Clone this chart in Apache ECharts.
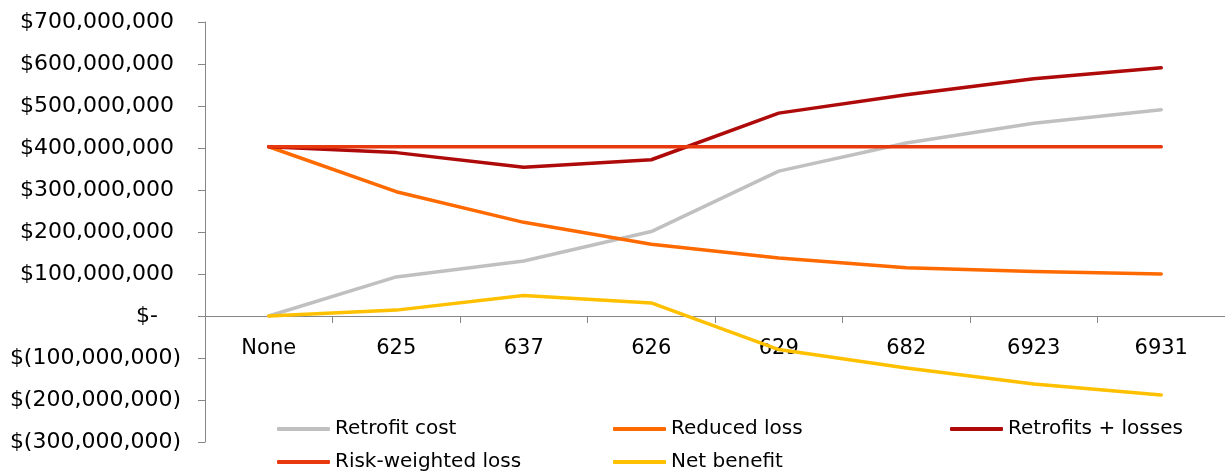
<!DOCTYPE html>
<html>
<head>
<meta charset="utf-8">
<script src="https://cdn.jsdelivr.net/npm/echarts@6/dist/echarts.min.js"></script>
<style>
  html, body { margin: 0; padding: 0; background: #fff; }
  #chart { width: 1225px; height: 475px; }
</style>
</head>
<body>
<div id="chart"></div>
<script>
// Retrofit scenarios (building groups retrofitted)
const categories = ['None', '625', '637', '626', '629', '682', '6923', '6931'];

// Dollar amounts per scenario
const retrofitCost     = [0, 93e6, 131e6, 201e6, 345e6, 412e6, 459e6, 491e6];
const reducedLoss      = [403e6, 296e6, 223e6, 171e6, 138e6, 115e6, 106e6, 100e6];
const retrofitsLosses  = [403e6, 389e6, 354e6, 372e6, 483e6, 527e6, 565e6, 591e6];
const riskWeightedLoss = [403e6, 403e6, 403e6, 403e6, 403e6, 403e6, 403e6, 403e6];
const netBenefit       = [0, 14e6, 49e6, 31e6, -80e6, -124e6, -162e6, -188e6];

// Y-axis range
const Y_MIN = -300e6, Y_MAX = 700e6, Y_STEP = 100e6;

const FONT = '"DejaVu Sans"';
const GRID = { left: 205, right: 0, top: 22, bottom: 33 };
const PLOT_H = 475 - GRID.top - GRID.bottom;

// Accounting-style currency labels: $1,000 / $- / $(1,000)
function money(v) {
  const s = Math.abs(v).toLocaleString('en-US');
  if (v > 0) return '{p|$' + s + '}';
  if (v === 0) return '{z|$-}';
  return '{n|$(' + s + ')}';
}

const chart = echarts.init(document.getElementById('chart'), null, { renderer: 'canvas' });

function line(name, data, color) {
  return {
    name, type: 'line', data,
    symbol: 'none', smooth: false,
    lineStyle: { color, width: 3.5, cap: 'round', join: 'round' },
    itemStyle: { color },
    emphasis: { disabled: true }
  };
}

// One legend entry per component, laid out in a 3-column grid
function legendItem(name, left, top) {
  return {
    data: [name],
    left, top,
    padding: 0,
    icon: 'roundRect',
    itemWidth: 53,
    itemHeight: 4,
    textStyle: { fontFamily: FONT, fontSize: 20, color: '#000' }
  };
}

chart.setOption({
  animation: false,
  backgroundColor: '#fff',
  grid: Object.assign({ outerBoundsMode: 'none', containLabel: false }, GRID),
  legend: [
    legendItem('Retrofit cost', 277, 419),
    legendItem('Reduced loss', 613, 419),
    legendItem('Retrofits + losses', 950, 419),
    legendItem('Risk-weighted loss', 277, 452),
    legendItem('Net benefit', 613, 452)
  ],
  xAxis: {
    type: 'category',
    data: categories,
    boundaryGap: true,
    // axis drawn along the zero line
    offset: -PLOT_H * (0 - Y_MIN) / (Y_MAX - Y_MIN),
    axisLine: { onZero: false, lineStyle: { color: '#868686', width: 1 } },
    axisTick: { show: true, length: 7, lineStyle: { color: '#868686' } },
    axisLabel: { fontFamily: FONT, fontSize: 21, color: '#000', margin: 22 },
    splitLine: { show: false }
  },
  yAxis: {
    type: 'value',
    min: Y_MIN, max: Y_MAX, interval: Y_STEP,
    axisLine: { show: true, lineStyle: { color: '#868686', width: 1 } },
    axisTick: { show: true, length: 7, lineStyle: { color: '#868686' } },
    splitLine: { show: false },
    axisLabel: {
      margin: 24,
      formatter: money,
      rich: {
        p: { fontFamily: FONT, fontSize: 22, color: '#000', padding: [0, 7, 0, 0] },
        z: { fontFamily: FONT, fontSize: 22, color: '#000', padding: [0, 23, 0, 0] },
        n: { fontFamily: FONT, fontSize: 22, color: '#000' }
      }
    }
  },
  series: [
    line('Retrofit cost', retrofitCost, '#C0C0C0'),
    line('Reduced loss', reducedLoss, '#FF6A00'),
    line('Retrofits + losses', retrofitsLosses, '#AE0A0A'),
    line('Risk-weighted loss', riskWeightedLoss, '#E8380D'),
    line('Net benefit', netBenefit, '#FFC000')
  ]
});
</script>
</body>
</html>
